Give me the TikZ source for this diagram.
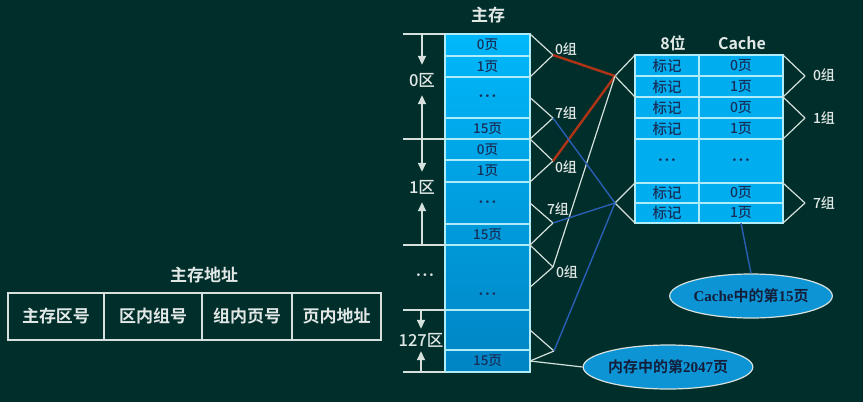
\documentclass[tikz,border=0pt]{standalone}
\usepackage{fontspec}
\setmainfont{Noto Sans CJK SC}[BoldFont={Noto Sans CJK SC Bold}]
\newfontfamily\cellfont{Noto Sans CJK SC Medium}
\newfontfamily\latinserif{Liberation Serif}
\newfontfamily\dotfont{DejaVu Sans}
\usepackage{tikz}
\usetikzlibrary{positioning,calc,backgrounds,shapes.geometric,arrows.meta}
\definecolor{bgcol}{RGB}{0,46,43}
\definecolor{linecol}{RGB}{214,224,220}
\definecolor{txtcol}{RGB}{226,232,230}
\definecolor{cellcol}{RGB}{0,174,240}
\definecolor{celltop}{RGB}{0,184,250}
\definecolor{cellbot}{RGB}{0,132,196}
\definecolor{cellline}{RGB}{175,236,250}
\definecolor{celltext}{RGB}{22,48,90}
\definecolor{redcol}{RGB}{175,52,22}
\definecolor{bluecol}{RGB}{40,95,180}
\definecolor{ellcol}{RGB}{12,148,212}
\definecolor{notetext}{RGB}{18,30,58}
\newcommand{\celldots}{{\dotfont\fontsize{9}{9}\selectfont •\kern1.2pt•\kern1.2pt•}}

\begin{document}
\begin{tikzpicture}[x=1pt,y=-1pt]
\tikzstyle{mcell}=[rectangle, draw=cellline, line width=1.2pt, minimum width=85pt, inner sep=0pt, outer sep=0pt, text=celltext, font=\cellfont\fontsize{13.5}{15}\selectfont]
\tikzstyle{tcell}=[mcell, fill=cellcol, minimum width=64pt, font=\cellfont\fontsize{14.5}{16}\selectfont]
\tikzstyle{ccell}=[mcell, fill=cellcol, minimum width=84pt, font=\cellfont\fontsize{14}{15}\selectfont]
\tikzstyle{addr}=[rectangle, draw=linecol, line width=1.2pt, minimum height=47pt, inner sep=0pt, outer sep=0pt, text=txtcol, font=\bfseries\fontsize{17}{19}\selectfont]
\tikzstyle{title}=[text=txtcol, inner sep=0pt, font=\bfseries\fontsize{16}{18}\selectfont]
\tikzstyle{zone}=[text=txtcol, inner sep=0pt, font=\cellfont\fontsize{16.5}{18}\selectfont]
\tikzstyle{grp}=[text=txtcol, inner sep=0pt, font=\cellfont\fontsize{14}{16}\selectfont]
\tikzstyle{zline}=[draw=linecol, line width=1.8pt]
\tikzstyle{zarrow}=[zline, -{Triangle[width=8pt,length=9pt]}, shorten >=8pt]
\tikzstyle{connect}=[draw=linecol, line width=1.2pt]
\tikzstyle{redlink}=[draw=redcol, line width=2.4pt]
\tikzstyle{bluelink}=[draw=bluecol, line width=1.4pt]
\tikzstyle{note}=[ellipse, draw=linecol, line width=1.2pt, fill=ellcol, minimum width=152pt, minimum height=44pt, inner sep=0pt, text=notetext, font=\bfseries\fontsize{15}{17}\selectfont]

  \useasboundingbox (0,0) rectangle (863,402);

  % main memory column
  \node[mcell, minimum height=22pt] (m1) at (487.5,45) {0页};
  \node[mcell, minimum height=21pt] (m2) [below=0pt of m1] {1页};
  \node[mcell, minimum height=41pt] (m3) [below=0pt of m2] {\celldots};
  \node[mcell, minimum height=21pt] (m4) [below=0pt of m3] {15页};
  \node[mcell, minimum height=21pt] (m5) [below=0pt of m4] {0页};
  \node[mcell, minimum height=22pt] (m6) [below=0pt of m5] {1页};
  \node[mcell, minimum height=42pt] (m7) [below=0pt of m6] {\celldots};
  \node[mcell, minimum height=21pt] (m8) [below=0pt of m7] {15页};
  \node[mcell, minimum height=65pt, label={[text=celltext, yshift=-18pt]center:\celldots}] (m9) [below=0pt of m8] {};
  \node[mcell, minimum height=40pt] (m10) [below=0pt of m9] {};
  \node[mcell, minimum height=22pt] (m11) [below=0pt of m10] {15页};
  \node[title, font=\bfseries\fontsize{17}{19}\selectfont] (hmem) at (488,15) {主存};

  % cache table
  \node[tcell, minimum height=21pt] (t1) at (667,65.5) {标记};
  \node[ccell, minimum height=21pt] (c1) [right=0pt of t1] {0页};
  \node[tcell, minimum height=21pt] (t2) [below=0pt of t1] {标记};
  \node[ccell, minimum height=21pt] (c2) [right=0pt of t2] {1页};
  \node[tcell, minimum height=21pt] (t3) [below=0pt of t2] {标记};
  \node[ccell, minimum height=21pt] (c3) [right=0pt of t3] {0页};
  \node[tcell, minimum height=21pt] (t4) [below=0pt of t3] {标记};
  \node[ccell, minimum height=21pt] (c4) [right=0pt of t4] {1页};
  \node[tcell, minimum height=44pt] (t5) [below=0pt of t4] {\celldots};
  \node[ccell, minimum height=44pt] (c5) [right=0pt of t5] {\celldots};
  \node[tcell, minimum height=20pt] (t6) [below=0pt of t5] {标记};
  \node[ccell, minimum height=20pt] (c6) [right=0pt of t6] {0页};
  \node[tcell, minimum height=20pt] (t7) [below=0pt of t6] {标记};
  \node[ccell, minimum height=20pt] (c7) [right=0pt of t7] {1页};
  \node[title] (hbits) at (673,43) {8位};
  \node[title] (hcache) at (742,43) {Cache};

  % address format
  \node[title, font=\bfseries\fontsize{17}{19}\selectfont] (haddr) at (204,275) {主存地址};
  \node[addr, minimum width=96pt] (a1) at (56,316.5) {主存区号};
  \node[addr, minimum width=98pt] (a2) [right=0pt of a1] {区内组号};
  \node[addr, minimum width=90pt] (a3) [right=0pt of a2] {组内页号};
  \node[addr, minimum width=89pt] (a4) [right=0pt of a3] {页内地址};

  \begin{scope}[on background layer]
    \fill[bgcol] (0,0) rectangle (863,402);
    \shade[top color=celltop, bottom color=cellbot] (m1.north west) rectangle (m11.south east);
  \end{scope}

  % zones
  \coordinate (z0) at (403,34);
  \coordinate (z1) at (403,139);
  \coordinate (z2) at (403,245);
  \coordinate (z3) at (403,310);
  \coordinate (z4) at (403,372);
  \draw[zline] (z0) -- (m1.north west);
  \draw[zline] (z1) -- (m5.north west);
  \draw[zline] (z2) -- (m9.north west);
  \draw[zline] (z3) -- (m10.north west);
  \draw[zline] (z4) -- (m11.south west);

  \node[zone] (l0) at (422,80) {0区};
  \node[zone] (l1) at (422,187) {1区};
  \node[zone] (l2) at (425,276) {\celldots};
  \node[zone] (l3) at (421,340) {127区};
  \draw[zarrow] (l0 |- z0) -- (l0.north);
  \draw[zarrow] (l0 |- z1) -- (l0.south);
  \draw[zarrow] (l1 |- z1) -- (l1.north);
  \draw[zarrow] (l1 |- z2) -- (l1.south);
  \draw[zarrow, shorten >=4pt] (l3 |- z3) -- (l3.north);
  \draw[zarrow, shorten >=4pt] (l3 |- z4) -- (l3.south);

  % groups
  \coordinate (g0a) at (553,55);
  \coordinate (g7a) at (553,118);
  \coordinate (g0b) at (553,161);
  \coordinate (g7b) at (553,223);
  \coordinate (g0c) at (553,267);
  \coordinate (g7c) at (554,351);
  \coordinate (k0) at (615,76);
  \coordinate (k7) at (615,203);
  \coordinate (r0) at (805,76);
  \coordinate (r1) at (805,118);
  \coordinate (r7) at (805,203);

  \path (m1.north east) edge [connect] (g0a)
        (m3.north east) edge [connect] (g0a)
        (m3.east) edge [connect] (g7a)
        (m4.south east) edge [connect] (g7a)
        (m5.north east) edge [connect] (g0b)
        (m7.north east) edge [connect] (g0b)
        (m7.east) edge [connect] (g7b)
        (m8.south east) edge [connect] (g7b)
        (m9.north east) edge [connect] (g0c)
        ($(m9.north east)!0.65!(m9.south east)$) edge [connect] (g0c)
        (m10.east) edge [connect] (g7c)
        (m11.east) edge [connect] (g7c);

  \path (t1.north west) edge [connect] (k0)
        (t2.south west) edge [connect] (k0)
        (t6.north west) edge [connect] (k7)
        (t7.south west) edge [connect] (k7)
        (c1.north east) edge [connect] (r0)
        (c2.south east) edge [connect] (r0)
        (c3.north east) edge [connect] (r1)
        (c4.south east) edge [connect] (r1)
        (c6.north east) edge [connect] (r7)
        (c7.south east) edge [connect] (r7);

  \path (g0a) edge [redlink] (k0)
        (g0b) edge [redlink] (k0)
        (g0c) edge [connect] (k0)
        (g7a) edge [bluelink] (k7)
        (g7b) edge [bluelink] (k7)
        (g7c) edge [bluelink] (k7);

  \node[grp] (n0a) at (566,49) {0组};
  \node[grp] (n7a) at (566,113) {7组};
  \node[grp] (n0b) at (566,167) {0组};
  \node[grp] (n7b) at (558,209) {7组};
  \node[grp] (n0c) at (567,272) {0组};
  \node[grp] (n0r) at (824,75) {0组};
  \node[grp] (n1r) at (824,118) {1组};
  \node[grp] (n7r) at (824,203) {7组};

  % notes
  \node[note] (e1) at (751,296) {{\latinserif Cache}中的第{\latinserif 15}页};
  \node[note] (e2) at (668,367) {内存中的第{\latinserif 2047}页};
  \path (c7.south) edge [bluelink] (e1.north)
        (m11.east) edge [connect] (e2.west);

\end{tikzpicture}
\end{document}
